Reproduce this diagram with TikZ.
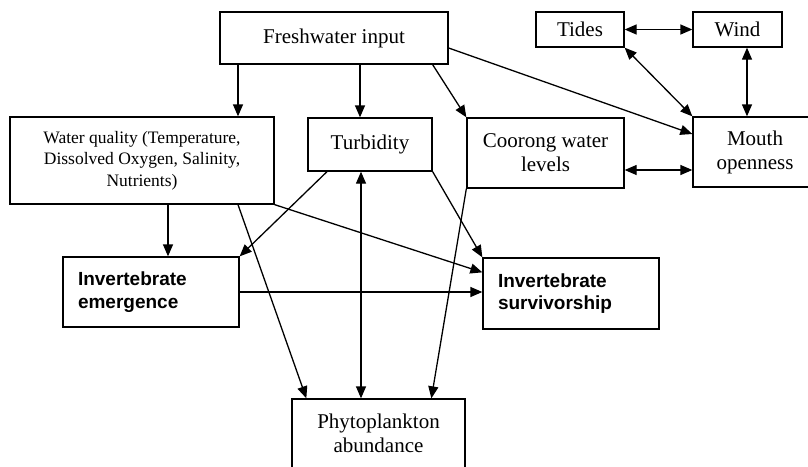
\documentclass[tikz,border=0pt]{standalone}
\usepackage{fontspec}
\setmainfont{Liberation Serif}
\newfontfamily\labelsans{Liberation Sans}
\usetikzlibrary{arrows.meta,calc}

\tikzset{
  box/.style={draw, line width=1.3pt, rectangle, inner sep=0pt, align=center,
    font=\fontsize{21}{24}\selectfont},
  smallbox/.style={box, font=\fontsize{17.5}{21.5}\selectfont},
  keybox/.style={draw, line width=1.3pt, rectangle, inner xsep=15pt, inner ysep=0pt,
    align=left, font=\labelsans\bfseries\fontsize{19}{22.5}\selectfont},
  tip/.style={Triangle[length=12pt,width=10pt]},
  arr/.style={line width=1.3pt, -{Triangle[length=12pt,width=10pt]}},
  darr/.style={line width=1.3pt, {Triangle[length=12pt,width=10pt]}-{Triangle[length=12pt,width=10pt]}}
}

\begin{document}
\begin{tikzpicture}[x=1pt,y=-1pt]
\useasboundingbox (0,0) rectangle (808,466);
\clip (0,0) rectangle (808,466);

% drivers
\node[box, minimum width=228pt, minimum height=52pt] (fw) at (334,38) {Freshwater input};
\node[box, minimum width=88pt, minimum height=35pt] (tides) at (580,29.5) {Tides};
\node[box, minimum width=89pt, minimum height=35pt] (wind) at (737.5,29.5) {Wind};
\node[box, minimum width=124pt, minimum height=70pt] (mouth) at (755,152) {Mouth\\openness};

% physical and chemical conditions
\node[smallbox, minimum width=264pt, minimum height=87pt] (wq) at (142,160.5)
  {Water quality (Temperature,\\Dissolved Oxygen, Salinity,\\Nutrients)};
\node[box, minimum width=124pt, minimum height=53pt] (turb) at (370,144.5) {Turbidity};
\node[box, minimum width=157pt, minimum height=70pt] (co) at (545.5,153) {Coorong water\\levels};

% biological responses
\node[keybox, text width=146pt, minimum height=70pt] (ie) at (151,292) {Invertebrate\\emergence};
\node[keybox, text width=146pt, minimum height=71pt] (is) at (571,293.5) {Invertebrate\\survivorship};
\node[box, minimum width=173pt, minimum height=69pt] (phy) at (378.5,433.5) {Phytoplankton\\abundance};

% links from freshwater input
\draw[arr] ([xshift=-96pt]fw.south) -- ([xshift=-96pt]fw.south |- wq.north);
\draw[arr] ([xshift=26pt]fw.south) -- ([xshift=26pt]fw.south |- turb.north);
\draw[arr] ([xshift=-16pt]fw.south east) -- (co.north west);
\draw[arr] ([yshift=-10pt]fw.east) -- ([yshift=18pt]mouth.west);

% tides, wind and the mouth
\draw[darr] (tides.east) -- (wind.west);
\draw[darr] (tides.south east) -- (mouth.north west);
\draw[darr] ([xshift=9.5pt]wind.south) -- ([xshift=9.5pt]wind.south |- mouth.north);
\draw[darr] ([yshift=-17pt]co.east) -- ([yshift=-17pt]co.east -| mouth.west);

% links to invertebrates and phytoplankton
\draw[arr] ([xshift=26pt]wq.south) -- ([xshift=26pt]wq.south |- ie.north);
\draw[arr] ([xshift=-43pt]turb.south) -- (ie.north east);
\draw[arr] ([xshift=96pt]wq.south) -- ([xshift=15pt]phy.north west);
\draw[arr] (wq.south east) -- ([yshift=-15pt]is.north west);
\draw[darr] ([xshift=-9pt]turb.south) -- ([xshift=-9pt]turb.south |- phy.north);
\draw[arr] (turb.south east) -- (is.north west);
\draw[arr] (co.south west) -- ([xshift=140pt]phy.north west);
\draw[arr] (ie.east) -- (ie.east -| is.west);
\end{tikzpicture}
\end{document}
